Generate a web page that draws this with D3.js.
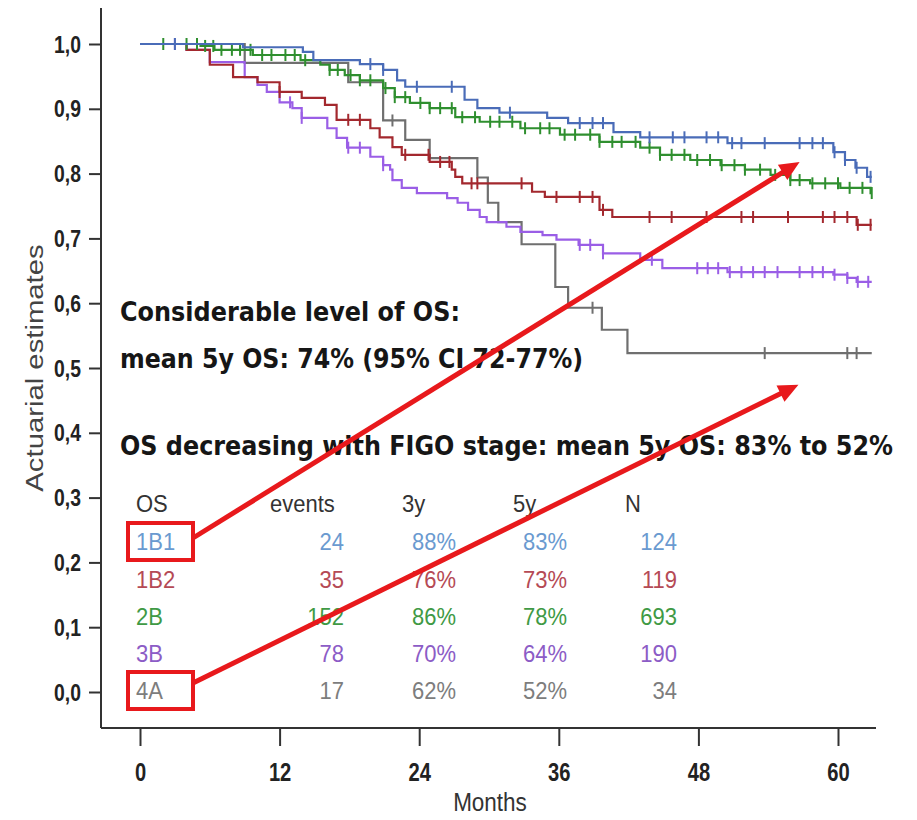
<!DOCTYPE html>
<html><head><meta charset="utf-8">
<script src="https://cdn.jsdelivr.net/npm/d3@7"></script>
<style>body{margin:0;background:#fff}svg{display:block}</style>
</head><body>
<svg id="c" width="917" height="820"></svg>
<script>
// ---------- data ----------
const monthTicks = [0, 12, 24, 36, 48, 60];
const yTicks = [0, 0.1, 0.2, 0.3, 0.4, 0.5, 0.6, 0.7, 0.8, 0.9, 1.0];
const groups = ["1B1", "1B2", "2B", "3B", "4A"];
const events = ["24", "35", "152", "78", "17"];
const os3y = ["88%", "76%", "86%", "70%", "62%"];
const os5y = ["83%", "73%", "78%", "64%", "52%"];
const nPatients = ["124", "119", "693", "190", "34"];
const endTime = 62.9;

// Kaplan-Meier steps (time in months, survival after the step)
const t1B1 = [0, 8.85, 14.0, 14.9, 18.9, 20.9, 22.1, 22.8, 27.9, 29.0, 30.9, 35.0, 36.8, 40.7, 43.0, 50.5, 59.6, 60.6, 61.5, 62.5];
const s1B1 = [1, 0.995, 0.988, 0.975, 0.969, 0.960, 0.944, 0.934, 0.914, 0.901, 0.894, 0.886, 0.878, 0.864, 0.856, 0.847, 0.833, 0.821, 0.809, 0.795];
const c1B1 = [3.0, 19.8, 20.9, 23.8, 26.8, 31.8, 37.8, 38.9, 39.8, 43.8, 45.8, 46.8, 48.7, 49.7, 50.9, 51.7, 53.7, 56.7, 57.8, 58.7, 59.7, 60.6, 61.6, 62.8];

const t1B2 = [0, 4.0, 6.0, 8.0, 10.1, 12.0, 13.9, 15.9, 16.9, 19.8, 20.6, 21.7, 22.5, 24.9, 26.8, 27.1, 27.7, 33.7, 34.8, 39.5, 40.6, 61.6];
const s1B2 = [1, 0.991, 0.968, 0.949, 0.941, 0.926, 0.917, 0.906, 0.883, 0.870, 0.856, 0.841, 0.829, 0.818, 0.806, 0.795, 0.785, 0.772, 0.764, 0.744, 0.733, 0.721];
const c1B2 = [12.0, 17.9, 18.9, 22.8, 24.8, 25.8, 26.6, 28.5, 29.0, 32.8, 35.8, 37.8, 38.9, 39.8, 43.8, 45.7, 48.7, 51.7, 52.7, 55.7, 58.7, 59.7, 60.8, 61.7, 62.8];

const t2B = [0, 5.2, 6.4, 9.7, 13.8, 15.5, 16.3, 17.6, 18.9, 20.9, 21.9, 23.2, 24.9, 27.1, 29.2, 32.7, 36.1, 39.5, 43.0, 44.7, 47.3, 49.9, 52.0, 54.2, 55.9, 57.6, 60.2, 62.8];
const s2B = [1, 0.997, 0.991, 0.983, 0.975, 0.968, 0.960, 0.952, 0.944, 0.932, 0.918, 0.909, 0.901, 0.887, 0.880, 0.870, 0.860, 0.849, 0.840, 0.829, 0.821, 0.813, 0.806, 0.798, 0.790, 0.785, 0.778, 0.770];
const c2B = [2.0, 4.0, 4.9, 5.6, 6.3, 7.0, 7.9, 8.6, 9.5, 10.5, 11.3, 12.5, 13.3, 14.2, 16.3, 17.0, 18.1, 18.9, 19.8, 21.1, 21.9, 22.8, 24.1, 24.9, 25.8, 26.8, 27.7, 28.8, 30.1, 30.9, 32.0, 33.1, 34.4, 35.2, 36.5, 37.4, 38.7, 39.5, 40.6, 41.4, 42.6, 43.8, 44.7, 45.7, 46.8, 47.9, 49.0, 50.0, 51.1, 52.0, 53.3, 54.6, 55.9, 56.7, 57.8, 58.9, 60.0, 61.0, 62.1, 62.9];

const t3B = [0, 4.0, 6.0, 9.0, 10.1, 10.9, 12.0, 13.1, 13.9, 16.1, 16.9, 17.8, 19.8, 20.9, 21.5, 21.7, 22.5, 23.8, 26.4, 27.3, 28.2, 29.2, 29.8, 31.5, 32.7, 34.6, 35.8, 37.7, 39.8, 43.0, 44.9, 50.5, 59.6, 60.8, 61.6];
const s3B = [1, 0.991, 0.972, 0.949, 0.937, 0.926, 0.910, 0.901, 0.886, 0.870, 0.855, 0.840, 0.826, 0.813, 0.806, 0.790, 0.778, 0.770, 0.762, 0.755, 0.744, 0.733, 0.725, 0.718, 0.710, 0.705, 0.698, 0.690, 0.677, 0.667, 0.654, 0.648, 0.644, 0.639, 0.633];
const c3B = [3.0, 12.9, 13.9, 17.9, 18.9, 20.9, 37.8, 38.7, 39.8, 44.0, 47.9, 48.8, 49.7, 50.7, 51.7, 52.7, 53.7, 54.8, 56.7, 57.8, 58.7, 59.7, 60.8, 61.7, 62.6];

const t4A = [0, 9.0, 17.9, 20.9, 22.8, 24.9, 29.0, 29.9, 30.8, 32.8, 35.7, 36.8, 39.7, 41.9];
const s4A = [1, 0.971, 0.941, 0.882, 0.852, 0.824, 0.794, 0.755, 0.725, 0.691, 0.625, 0.593, 0.559, 0.523];
const c4A = [21.7, 38.9, 53.7, 60.8, 61.6];

// arrow tips (months, survival)
const arrowTips = [[56.7, 0.818], [56.6, 0.474]];

const curveColors = ["#4a6cb8", "#a3282e", "#2f8f2f", "#9a5ee6", "#6f6f6f"];
const tableColors = ["#6a9ad0", "#b54a55", "#3f9a45", "#8c5cc6", "#7d7d7d"];

const series = [
  {t: t1B1, s: s1B1, c: c1B1},
  {t: t1B2, s: s1B2, c: c1B2},
  {t: t2B, s: s2B, c: c2B},
  {t: t3B, s: s3B, c: c3B},
  {t: t4A, s: s4A, c: c4A}
];

// ---------- drawing ----------
const svg = d3.select("#c");
svg.append("rect").attr("width", 917).attr("height", 820).attr("fill", "#fff");

const x = d3.scaleLinear().domain([0, 60]).range([140, 838]);
const y = d3.scaleLinear().domain([0, 1]).range([692, 44]);

const axisX = 101, axisY = 728;
const axisColor = "#333";

// axis lines
svg.append("line").attr("x1", axisX).attr("x2", axisX).attr("y1", 8).attr("y2", axisY)
  .attr("stroke", axisColor).attr("stroke-width", 2);
svg.append("line").attr("x1", axisX).attr("x2", 876).attr("y1", axisY).attr("y2", axisY)
  .attr("stroke", axisColor).attr("stroke-width", 2.2);

const fmt = d => d.toFixed(1).replace(".", ",");
const gy = svg.append("g").attr("transform", `translate(${axisX},0)`)
  .call(d3.axisLeft(y).tickValues(yTicks).tickSize(12).tickFormat(fmt));
gy.select(".domain").remove();
gy.selectAll(".tick line").attr("stroke", axisColor).attr("stroke-width", 2);
gy.selectAll(".tick text")
  .attr("x", null).attr("dy", null)
  .attr("transform", "translate(-20,8) scale(0.88,1.05)")
  .attr("text-anchor", "end")
  .attr("fill", "#222")
  .style("font-family", "'Liberation Sans', Arial, sans-serif")
  .style("font-weight", "bold").style("font-size", "22px");

const gx = svg.append("g").attr("transform", `translate(0,${axisY})`)
  .call(d3.axisBottom(x).tickValues(monthTicks).tickSize(18));
gx.select(".domain").remove();
gx.selectAll(".tick line").attr("stroke", axisColor).attr("stroke-width", 2);
gx.selectAll(".tick text")
  .attr("y", null).attr("dy", null)
  .attr("transform", "translate(0,53) scale(0.84,1.05)")
  .attr("text-anchor", "middle")
  .attr("fill", "#222")
  .style("font-family", "'Liberation Sans', Arial, sans-serif")
  .style("font-weight", "bold").style("font-size", "24px");

// axis titles
svg.append("text").attr("transform", "translate(490,811) scale(0.9,1)")
  .attr("text-anchor", "middle").attr("fill", "#333")
  .style("font-family", "'Liberation Sans', Arial, sans-serif").style("font-size", "25px")
  .text("Months");
svg.append("text").attr("transform", "translate(43,368) rotate(-90) scale(1.22,1)")
  .attr("text-anchor", "middle").attr("fill", "#444")
  .style("font-family", "'Liberation Sans', Arial, sans-serif").style("font-size", "24px")
  .text("Actuarial estimates");

// curves
const line = d3.line().x(d => x(d[0])).y(d => y(d[1])).curve(d3.curveStepAfter);
const drawOrder = [4, 3, 1, 2, 0];
drawOrder.forEach(i => {
  const sr = series[i];
  const pts = sr.t.map((t, k) => [t, sr.s[k]]);
  pts.push([endTime, sr.s[sr.s.length - 1]]);
  const g = svg.append("g");
  g.append("path").attr("d", line(pts)).attr("fill", "none")
    .attr("stroke", curveColors[i]).attr("stroke-width", 2.2);
  sr.c.forEach(ct => {
    const k = d3.bisectRight(sr.t, ct) - 1;
    const v = sr.s[Math.max(0, k)];
    g.append("line").attr("x1", x(ct)).attr("x2", x(ct))
      .attr("y1", y(v) - 6).attr("y2", y(v) + 6)
      .attr("stroke", curveColors[i]).attr("stroke-width", 2);
  });
});

// annotation text
const annFont = "'DejaVu Sans Condensed', 'DejaVu Sans', sans-serif";
const ann = [
  {s: "Considerable level of OS:", x: 120, y: 321, w: 340},
  {s: "mean 5y OS: 74% (95% CI 72-77%)", x: 120, y: 368, w: 463},
  {s: "OS decreasing with FIGO stage: mean 5y OS: 83% to 52%", x: 120, y: 455, w: 773}
];
ann.forEach(a => {
  svg.append("text").attr("x", a.x).attr("y", a.y)
    .attr("textLength", a.w).attr("lengthAdjust", "spacingAndGlyphs")
    .attr("fill", "#161616")
    .style("font-family", annFont).style("font-stretch", "condensed")
    .style("font-weight", "bold").style("font-size", "26.5px")
    .text(a.s);
});

// table
const tFont = "'Liberation Sans', Arial, sans-serif";
function ttext(s, xp, yp, anchor, color) {
  svg.append("text").attr("transform", `translate(${xp},${yp}) scale(1,1.08)`)
    .attr("text-anchor", anchor).attr("fill", color)
    .style("font-family", tFont).style("font-size", "22px").text(s);
}
const headY = 512;
const rowY = [550, 588, 625, 662, 699];
ttext("OS", 136, headY, "start", "#333");
ttext("events", 270, headY, "start", "#333");
ttext("3y", 402, headY, "start", "#333");
ttext("5y", 513, headY, "start", "#333");
ttext("N", 625, headY, "start", "#333");
groups.forEach((gname, i) => {
  const c = tableColors[i];
  ttext(gname, 136, rowY[i], "start", c);
  ttext(events[i], 344, rowY[i], "end", c);
  ttext(os3y[i], 456, rowY[i], "end", c);
  ttext(os5y[i], 567, rowY[i], "end", c);
  ttext(nPatients[i], 677, rowY[i], "end", c);
});

// red boxes and arrows
const red = "#e8191c";
[0, 4].forEach(r => {
  const cy = rowY[r] - 9;
  svg.append("rect").attr("x", 128).attr("y", cy - 18).attr("width", 65).attr("height", 37)
    .attr("fill", "none").attr("stroke", red).attr("stroke-width", 4);
});

function arrow(x1, y1, x2, y2) {
  const dx = x2 - x1, dy = y2 - y1, L = Math.hypot(dx, dy);
  const ux = dx / L, uy = dy / L;
  const hl = 20, hw = 9;
  const bx = x2 - ux * hl, by = y2 - uy * hl;
  svg.append("line").attr("x1", x1).attr("y1", y1).attr("x2", bx + ux * 2).attr("y2", by + uy * 2)
    .attr("stroke", red).attr("stroke-width", 5);
  svg.append("path")
    .attr("d", `M${x2},${y2} L${bx - uy * hw},${by + ux * hw} L${bx + uy * hw},${by - ux * hw} Z`)
    .attr("fill", red);
}
arrow(193, rowY[0] - 12, x(arrowTips[0][0]), y(arrowTips[0][1]));
arrow(193, rowY[4] - 16, x(arrowTips[1][0]), y(arrowTips[1][1]));
</script>
</body></html>
